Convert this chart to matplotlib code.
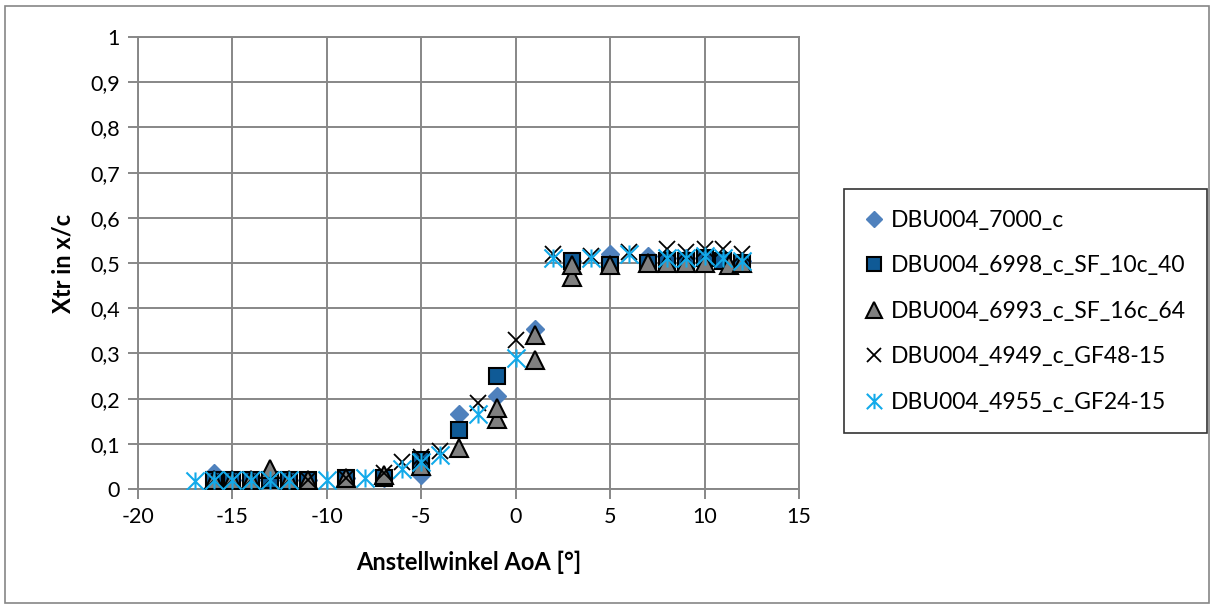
import matplotlib
matplotlib.use("Agg")
import matplotlib.pyplot as plt
from matplotlib.patches import Rectangle
from matplotlib.path import Path
from matplotlib.ticker import FuncFormatter, MultipleLocator

plt.rcParams['font.family'] = ['Lato', 'DejaVu Sans']

# Transition location x_tr/c over angle of attack, five measurement series
aoa_7000 = [-16, -15, -14, -13, -12, -11, -9, -7, -5, -3, -1, 1, 3, 5, 7, 8, 9, 10, 11, 12]
xtr_7000 = [0.035, 0.02, 0.02, 0.02, 0.02, 0.02, 0.025, 0.025, 0.03, 0.165, 0.205, 0.355,
            0.505, 0.52, 0.515, 0.51, 0.51, 0.51, 0.505, 0.505]

aoa_6998 = [-16, -15, -14, -13, -12, -11, -9, -7, -5, -5, -3, -1, 3, 5, 7, 8, 9, 10, 11, 12]
xtr_6998 = [0.02, 0.02, 0.02, 0.02, 0.02, 0.02, 0.025, 0.025, 0.05, 0.065, 0.13, 0.25,
            0.505, 0.495, 0.5, 0.505, 0.505, 0.51, 0.505, 0.5]

aoa_6993 = [-16, -15, -14, -13, -12, -11, -9, -7, -5, -3, -1, -1, 1, 1, 3, 3, 5,
            7, 8, 9, 10, 11.3, 12]
xtr_6993 = [0.02, 0.02, 0.02, 0.045, 0.02, 0.02, 0.025, 0.03, 0.05, 0.09, 0.155, 0.18,
            0.285, 0.34, 0.47, 0.495, 0.495, 0.5, 0.5, 0.5, 0.5, 0.495, 0.5]

aoa_4949 = [-16, -15, -14, -13, -12, -11, -9, -7, -6, -5, -4, -2, 0, 2, 4, 6,
            8, 9, 10, 11, 12]
xtr_4949 = [0.02, 0.02, 0.02, 0.02, 0.02, 0.02, 0.025, 0.035, 0.06, 0.07, 0.085, 0.19,
            0.33, 0.52, 0.515, 0.525, 0.53, 0.525, 0.53, 0.53, 0.52]

aoa_4955 = [-17, -16, -15, -14, -13, -12, -10, -8, -6, -5, -4, -2, 0, 2, 4, 6,
            8, 9, 10, 11, 12]
xtr_4955 = [0.017, 0.02, 0.02, 0.02, 0.02, 0.02, 0.02, 0.025, 0.045, 0.06, 0.075, 0.165,
            0.29, 0.51, 0.51, 0.52, 0.51, 0.51, 0.515, 0.51, 0.505]

labels = ["DBU004_7000_c", "DBU004_6998_c_SF_10c_40", "DBU004_6993_c_SF_16c_64",
          "DBU004_4949_c_GF48-15", "DBU004_4955_c_GF24-15"]

grid_col = '#878787'

# star marker: vertical stroke crossed by an X
star_path = Path([(0, -1), (0, 1), (-1, -1), (1, 1), (-1, 1), (1, -1)],
                 [Path.MOVETO, Path.LINETO, Path.MOVETO, Path.LINETO,
                  Path.MOVETO, Path.LINETO])

fig = plt.figure(figsize=(12.16, 6.08), dpi=100)
ax = fig.add_axes([138 / 1216, 1 - 489 / 608, (799 - 138) / 1216, (489 - 37) / 608])

ax.plot(aoa_7000, xtr_7000, linestyle='none', marker='D', markersize=9,
        markerfacecolor='#4F81BD', markeredgecolor='#4F81BD', label=labels[0], zorder=3)
ax.plot(aoa_6998, xtr_6998, linestyle='none', marker='s', markersize=12,
        markerfacecolor='#0F5A96', markeredgecolor='black', markeredgewidth=1.5,
        label=labels[1], zorder=4)
ax.plot(aoa_6993, xtr_6993, linestyle='none', marker='^', markersize=13,
        markerfacecolor='#808080', markeredgecolor='black', markeredgewidth=1.5,
        label=labels[2], zorder=5)
ax.plot(aoa_4949, xtr_4949, linestyle='none', marker='x', markersize=12,
        markeredgecolor='black', markeredgewidth=1.3, label=labels[3], zorder=6)
ax.plot(aoa_4955, xtr_4955, linestyle='none', marker=star_path, markersize=13,
        markeredgecolor='#12AAEA', markeredgewidth=1.5, label=labels[4], zorder=7)

ax.set_xlim(-20, 15)
ax.set_ylim(0, 1)
ax.xaxis.set_major_locator(MultipleLocator(5))
ax.yaxis.set_major_locator(MultipleLocator(0.1))
ax.yaxis.set_major_formatter(FuncFormatter(
    lambda v, p: '0' if abs(v) < 1e-9 else ('1' if abs(v - 1) < 1e-9 else f'{v:.1f}'.replace('.', ','))))
ax.xaxis.set_major_formatter(FuncFormatter(lambda v, p: f'{v:.0f}'))

ax.grid(True, color=grid_col, linewidth=1.4, zorder=0)
ax.set_axisbelow(True)
for s in ax.spines.values():
    s.set_color(grid_col)
    s.set_linewidth(1.4)
ax.tick_params(axis='both', colors=grid_col, width=1.4, length=7, labelsize=15.5,
               labelcolor='black', pad=6)

ax.set_xlabel('Anstellwinkel AoA [°]', fontsize=17, fontweight='bold', labelpad=17)
ax.set_ylabel('Xtr in x/c', fontsize=17, fontweight='bold', labelpad=11)

leg = fig.legend(loc='upper left', bbox_to_anchor=(844 / 1216, 1 - 189 / 608),
                 borderaxespad=0, fontsize=16.5, frameon=True, fancybox=False,
                 edgecolor='black', labelspacing=1.07, handlelength=0.8,
                 handletextpad=0.35, borderpad=0.9, markerscale=0.85)
leg.get_frame().set_linewidth(1.2)

fig.patches.append(Rectangle((5 / 1216, 5 / 608), 1 - 12 / 1216, 1 - 11 / 608,
                             transform=fig.transFigure, fill=False,
                             edgecolor='#868686', linewidth=1.2))

fig.savefig('out.png', dpi=100)
